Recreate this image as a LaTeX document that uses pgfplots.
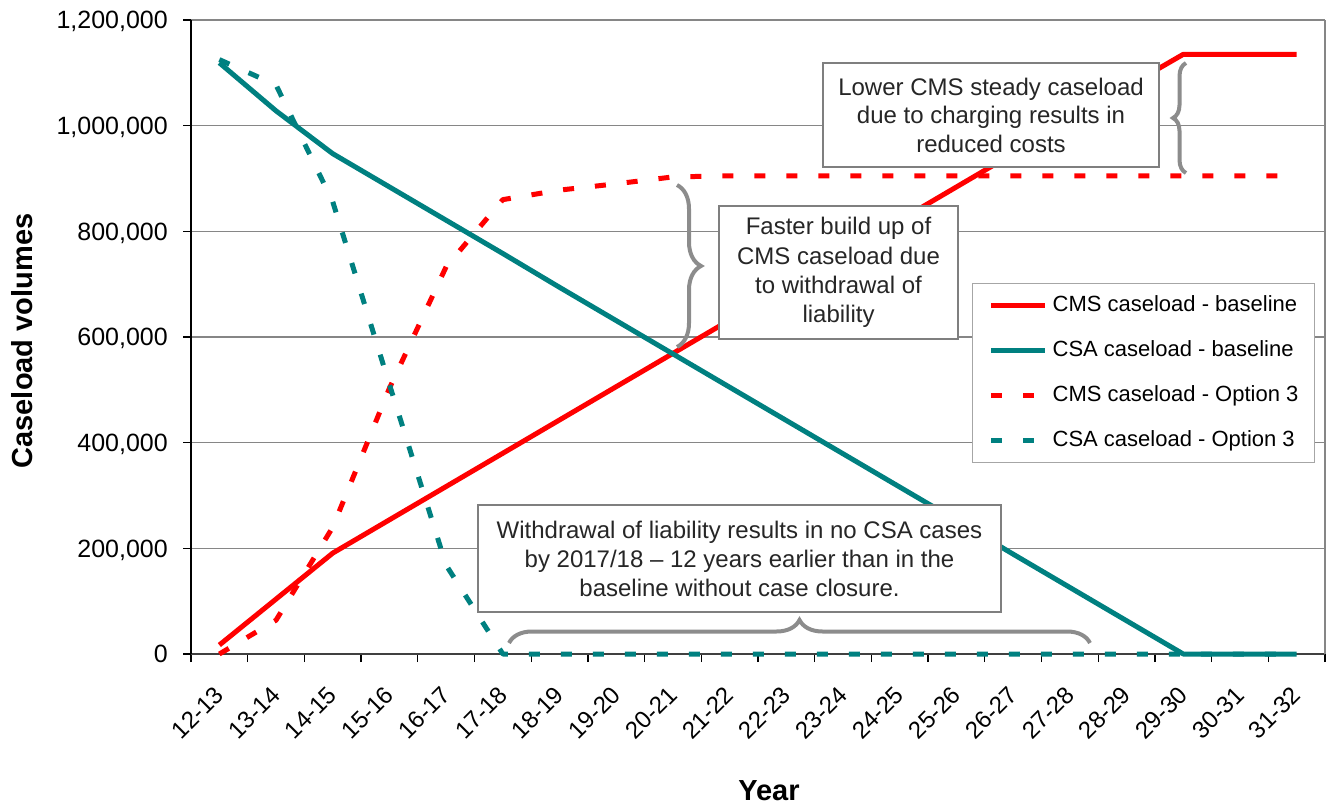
\documentclass[border=0pt]{standalone}
\usepackage{fontspec}
\setmainfont{Liberation Sans}
\usepackage{pgfplots}
\usepackage{pgfplotstable}
\pgfplotsset{compat=1.18}
\usetikzlibrary{decorations.pathreplacing}
\definecolor{cms}{HTML}{FF0000}
\definecolor{csa}{HTML}{008080}
\definecolor{gridgray}{HTML}{868686}
\definecolor{boxgray}{HTML}{7F7F7F}
\definecolor{leggray}{HTML}{A6A6A6}
\definecolor{bracegray}{HTML}{8C8C8C}
\definecolor{axisdark}{HTML}{404040}
\definecolor{txt}{HTML}{262626}

\pgfplotstableread{
x cmsb csab cmso csao
0 17000 1119000 0 1125000
1 104000 1028000 64000 1077000
2 191000 947000 240000 856000
3 254000 884000 503000 510000
4 317000 821000 733000 168000
5 380000 758000 860000 0
6 443000 694000 878000 0
7 506000 631000 890000 0
8 569000 568000 903000 0
9 632000 505000 905000 0
10 695000 442000 905000 0
11 758000 379000 905000 0
12 821000 316000 905000 0
13 884000 253000 905000 0
14 947000 189000 905000 0
15 1010000 126000 905000 0
16 1073000 63000 905000 0
17 1135000 0 905000 0
18 1135000 0 905000 0
19 1135000 0 905000 0
}\data

\begin{document}
\begin{tikzpicture}
\useasboundingbox (0pt,0pt) rectangle (1329pt,807pt);
\begin{axis}[
  at={(191pt,153pt)}, anchor=south west,
  width=1134pt, height=634pt, scale only axis,
  xmin=-0.5, xmax=19.5, ymin=0, ymax=1200000,
  clip=false,
  axis x line*=bottom, axis y line*=left,
  x axis line style={draw=axisdark, line width=1.6pt, -},
  y axis line style={draw=black, line width=1.3pt, -},
  ymajorgrids, grid style={gridgray, line width=1.2pt},
  ytick={0,200000,400000,600000,800000,1000000,1200000},
  scaled y ticks=false,
  /pgf/number format/.cd, fixed, 1000 sep={,}, assume math mode=true, /pgfplots/.cd,
  xtick={0,...,19},
  xticklabels={12-13,13-14,14-15,15-16,16-17,17-18,18-19,19-20,20-21,21-22,22-23,23-24,24-25,25-26,26-27,27-28,28-29,29-30,30-31,31-32},
  minor xtick={-0.5,0.5,...,19.5},
  major x tick style={draw=none},
  minor x tick style={black, line width=1.3pt},
  y tick style={black, line width=1.3pt},
  tick align=outside,
  major tick length=8pt, minor tick length=8pt,
  tick pos=left,
  yticklabel style={font=\fontsize{25}{29}\selectfont, black, anchor=east, inner sep=0pt, xshift=-15pt, text height=17.5pt, text depth=0pt},
  xticklabel style={font=\fontsize{24}{28}\selectfont, black, inner sep=0pt, rotate=45, anchor=east},
  xticklabel shift=29pt,
  legend style={at={(0.6887,0.5852)}, anchor=north west, draw=leggray, line width=1.3pt, fill=white,
    font=\fontsize{22}{26}\selectfont, inner xsep=16pt, inner ysep=11pt, row sep=23pt, column sep=5pt,
    nodes={inner sep=0pt, text height=17pt, text depth=5pt}},
  legend cell align=left,
  legend image code/.code={\draw[#1] (0pt,0pt) -- (54pt,0pt);},
]
\draw[gridgray, line width=1.2pt] (rel axis cs:1,0) -- (rel axis cs:1,1);
\addplot[cms, line width=5pt, line join=round] table[x=x,y=cmsb]{\data};
\addplot[csa, line width=5pt, line join=round] table[x=x,y=csab]{\data};
\addplot[cms, line width=5pt, line join=round, dash pattern=on 11pt off 21pt] table[x=x,y=cmso]{\data};
\addplot[csa, line width=5pt, line join=round, dash pattern=on 11pt off 21pt] table[x=x,y=csao]{\data};
\legend{CMS caseload - baseline, CSA caseload - baseline, CMS caseload - Option 3, CSA caseload - Option 3}
\end{axis}
\begin{scope}[x=1pt,y=1pt]
\draw[boxgray, line width=1.6pt, fill=white] (823,640) rectangle (1159,744);
\node[txt, align=center, font=\fontsize{24}{28.5}\selectfont] at (991,692) {Lower CMS steady caseload\\due to charging results in\\reduced costs};
\draw[boxgray, line width=1.6pt, fill=white] (719,468) rectangle (958,601);
\node[txt, align=center, font=\fontsize{24}{29.3}\selectfont] at (838.5,534.5) {Faster build up of\\CMS caseload due\\to withdrawal of\\liability};
\draw[boxgray, line width=1.6pt, fill=white] (478,195) rectangle (1001,302);
\node[txt, align=center, font=\fontsize{24}{29}\selectfont] at (739.5,248.5) {Withdrawal of liability results in no CSA cases\\by 2017/18 – 12 years earlier than in the\\baseline without case closure.};
\draw[bracegray, line width=4pt, decorate, decoration={brace, amplitude=13pt}] (1186,634) -- (1186,744);
\draw[bracegray, line width=4pt, decorate, decoration={brace, amplitude=24pt}] (677,622) -- (677,460);
\draw[bracegray, line width=4pt, decorate, decoration={brace, amplitude=23pt}] (509,164) -- (1090,164);
\node[rotate=90, font=\bfseries\fontsize{29}{34}\selectfont] at (22,466) {Caseload volumes};
\node[font=\bfseries\fontsize{29}{34}\selectfont] at (769,16) {Year};
\end{scope}
\end{tikzpicture}
\end{document}
